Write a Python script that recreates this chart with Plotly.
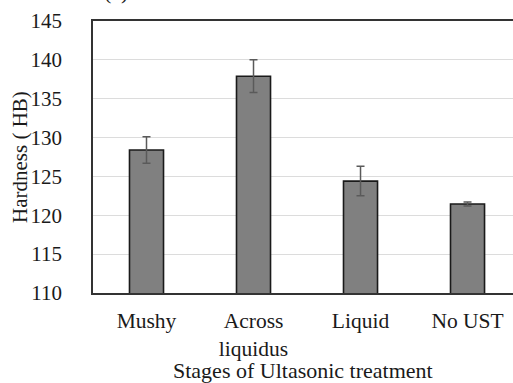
import plotly.graph_objects as go

categories = ["Mushy", "Across<br>liquidus", "Liquid", "No UST"]
hardness = [128.4, 137.9, 124.4, 121.45]
errors = [1.7, 2.1, 1.9, 0.25]
y_ticks = [110, 115, 120, 125, 130, 135, 140, 145]

FONT = "Liberation Serif, Times New Roman, serif"

fig = go.Figure(go.Bar(
    x=categories, y=hardness,
    marker=dict(color="#808080", line=dict(color="#1a1a1a", width=1.6)),
    error_y=dict(type="data", array=errors, visible=True,
                 color="#5a5a5a", thickness=1.5, width=4),
))

fig.update_layout(
    width=513, height=383,
    margin=dict(l=93, r=0, t=21, b=90),
    paper_bgcolor="white", plot_bgcolor="white",
    bargap=0.682,
    showlegend=False,
    font=dict(family=FONT, size=21, color="#1a1a1a"),
)
fig.update_xaxes(
    range=[-0.5, 3.425],
    showline=True, linecolor="#333333", linewidth=1.5, mirror=True,
    showgrid=False, ticks="", ticklabelstandoff=7,
    tickfont=dict(size=21.5),
)
fig.update_yaxes(
    range=[110, 145], tickvals=y_ticks,
    showline=True, linecolor="#333333", linewidth=1.5, mirror=False,
    showgrid=True, gridcolor="#dcdcdc", gridwidth=1,
    ticks="", ticklabelstandoff=25, zeroline=False,
    tickfont=dict(size=21),
)

fig.add_annotation(text="Stages of Ultasonic treatment", xref="paper", yref="paper",
                   x=0.5, y=0, xanchor="center", yanchor="top", yshift=-63,
                   showarrow=False, font=dict(size=22))
fig.add_annotation(text="Hardness ( HB)", xref="paper", yref="paper",
                   x=0, y=0.5, xanchor="center", yanchor="middle", xshift=-73,
                   textangle=-90, showarrow=False, font=dict(size=21))
fig.add_annotation(text="(a)", xref="paper", yref="paper",
                   x=0.055, y=1, xanchor="center", yanchor="bottom", yshift=15,
                   showarrow=False, font=dict(size=22))

fig.write_html("out.html", config={"displayModeBar": False},
               post_script="document.body.style.margin='0';document.body.style.overflow='hidden';")
